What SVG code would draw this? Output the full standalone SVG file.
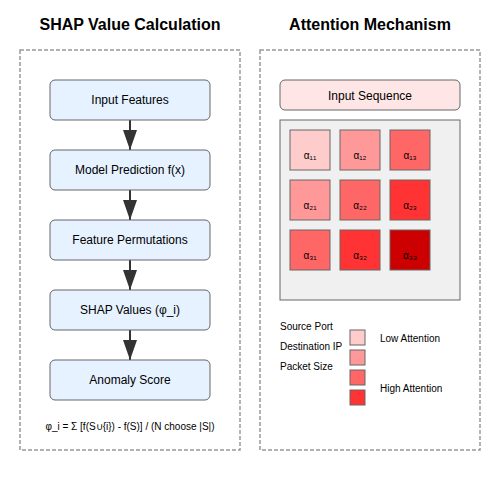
<svg xmlns="http://www.w3.org/2000/svg" width="500" height="500" viewBox="0 0 500 500">
<style>
text{font-family:"Liberation Sans",Arial,sans-serif;fill:#000}
.title{font-size:16px;font-weight:bold;text-anchor:middle}
.panel{fill:none;stroke:#999;stroke-width:1.5;stroke-dasharray:4,2}
.step{fill:#e6f2ff;stroke:#666;stroke-width:1}
.lbl{font-size:12px;text-anchor:middle}
.small{font-size:10px}
.cell{stroke:#666;stroke-width:1}
.ctext{font-size:10px;text-anchor:middle}
.conn{stroke:#333;stroke-width:2;fill:none}
</style>
<defs>
<marker id="arrow" markerWidth="10" markerHeight="7" refX="10" refY="3.5" orient="auto" markerUnits="strokeWidth">
<path d="M0,0 L10,3.5 L0,7 z" fill="#333"/>
</marker>
</defs>
<rect width="500" height="500" fill="#fff"/>
<text class="title" x="130" y="30">SHAP Value Calculation</text>
<text class="title" x="370" y="30">Attention Mechanism</text>
<rect class="panel" x="20" y="50" width="220" height="400"/>
<rect class="panel" x="260" y="50" width="220" height="400"/>
<g id="connectors">
<line class="conn" x1="130" y1="120" x2="130" y2="150" marker-end="url(#arrow)"/>
<line class="conn" x1="130" y1="190" x2="130" y2="220" marker-end="url(#arrow)"/>
<line class="conn" x1="130" y1="260" x2="130" y2="290" marker-end="url(#arrow)"/>
<line class="conn" x1="130" y1="330" x2="130" y2="360" marker-end="url(#arrow)"/>
</g>
<g id="input-features"><rect class="step" x="50" y="80" width="160" height="40" rx="5"/><text class="lbl" x="130" y="104">Input Features</text></g>
<g id="model-prediction"><rect class="step" x="50" y="150" width="160" height="40" rx="5"/><text class="lbl" x="130" y="174">Model Prediction f(x)</text></g>
<g id="feature-permutations"><rect class="step" x="50" y="220" width="160" height="40" rx="5"/><text class="lbl" x="130" y="244">Feature Permutations</text></g>
<g id="shap-values"><rect class="step" x="50" y="290" width="160" height="40" rx="5"/><text class="lbl" x="130" y="314">SHAP Values (φ_i)</text></g>
<g id="anomaly-score"><rect class="step" x="50" y="360" width="160" height="40" rx="5"/><text class="lbl" x="130" y="384">Anomaly Score</text></g>
<text class="small" x="130" y="430" text-anchor="middle">φ_i = Σ [f(S∪{i}) - f(S)] / (N choose |S|)</text>
<g id="input-sequence"><rect x="280" y="80" width="180" height="30" rx="5" fill="#ffe6e6" stroke="#666"/><text class="lbl" x="370" y="100">Input Sequence</text></g>
<g id="attention-matrix">
<rect x="280" y="120" width="180" height="180" fill="#f0f0f0" stroke="#666"/>
<rect class="cell" x="290" y="130" width="40" height="40" fill="#ffcccc"/><text class="ctext" x="310" y="159">α₁₁</text>
<rect class="cell" x="340" y="130" width="40" height="40" fill="#ff9999"/><text class="ctext" x="360" y="159">α₁₂</text>
<rect class="cell" x="390" y="130" width="40" height="40" fill="#ff6666"/><text class="ctext" x="410" y="159">α₁₃</text>
<rect class="cell" x="290" y="180" width="40" height="40" fill="#ff9999"/><text class="ctext" x="310" y="209">α₂₁</text>
<rect class="cell" x="340" y="180" width="40" height="40" fill="#ff6666"/><text class="ctext" x="360" y="209">α₂₂</text>
<rect class="cell" x="390" y="180" width="40" height="40" fill="#ff3333"/><text class="ctext" x="410" y="209">α₂₃</text>
<rect class="cell" x="290" y="230" width="40" height="40" fill="#ff6666"/><text class="ctext" x="310" y="259">α₃₁</text>
<rect class="cell" x="340" y="230" width="40" height="40" fill="#ff3333"/><text class="ctext" x="360" y="259">α₃₂</text>
<rect class="cell" x="390" y="230" width="40" height="40" fill="#cc0000"/><text class="ctext" x="410" y="259">α₃₃</text>
</g>
<g id="legend">
<text class="small" x="280" y="330">Source Port</text>
<text class="small" x="280" y="350">Destination IP</text>
<text class="small" x="280" y="370">Packet Size</text>
<rect class="cell" x="350" y="330" width="15" height="15" fill="#ffcccc"/>
<rect class="cell" x="350" y="350" width="15" height="15" fill="#ff9999"/>
<rect class="cell" x="350" y="370" width="15" height="15" fill="#ff6666"/>
<rect class="cell" x="350" y="390" width="15" height="15" fill="#ff3333"/>
<text class="small" x="380" y="342">Low Attention</text>
<text class="small" x="380" y="392">High Attention</text>
</g>
</svg>
